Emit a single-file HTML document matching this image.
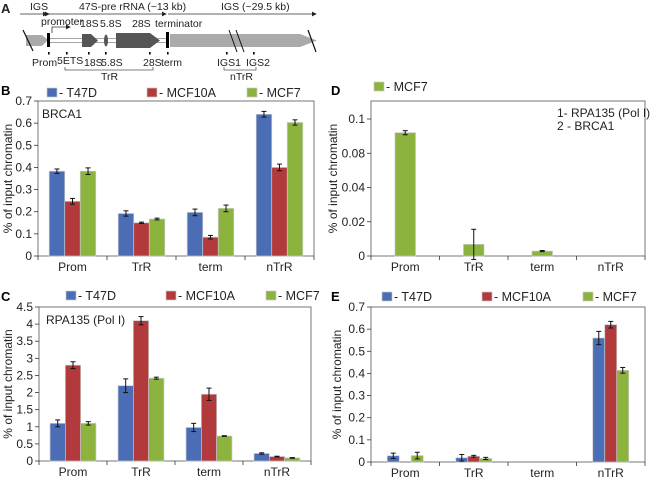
<!DOCTYPE html>
<html><head><meta charset="utf-8">
<style>
body{margin:0;background:#fff;}
svg{display:block;font-family:"Liberation Sans",Arial,sans-serif;}
</style></head>
<body>
<svg id="fig" width="650" height="477" viewBox="0 0 650 477" xmlns="http://www.w3.org/2000/svg">
<defs>
<marker id="ah" markerWidth="6" markerHeight="6" refX="5" refY="3" orient="auto"><path d="M0,0 L6,3 L0,6 z" fill="#222"/></marker>
</defs>
<g id="panelA" font-size="10.5" fill="#222">
  <text x="1" y="13" font-size="13" font-weight="bold">A</text>
  <line x1="20" y1="14" x2="47" y2="14" stroke="#333" stroke-width="0.8" marker-end="url(#ah)"/>
  <line x1="49" y1="14" x2="166" y2="14" stroke="#333" stroke-width="0.8" marker-end="url(#ah)" marker-start="url(#ah)"/>
  <line x1="168" y1="14" x2="316" y2="14" stroke="#333" stroke-width="0.8" marker-end="url(#ah)"/>
  <text x="30" y="10">IGS</text>
  <text x="79" y="10">47S-pre rRNA (~13 kb)</text>
  <text x="221" y="10">IGS (~29.5 kb)</text>
  <polygon points="26,35 42,35 48,40 42,46 26,46" fill="#aaa"/>
  <line x1="23" y1="30" x2="33" y2="51" stroke="#111" stroke-width="1.2"/>
  <line x1="48" y1="38.5" x2="168" y2="38.5" stroke="#888" stroke-width="0.8"/>
  <line x1="48" y1="42.5" x2="168" y2="42.5" stroke="#888" stroke-width="0.8"/>
  <rect x="47" y="33" width="3" height="14" fill="#000"/>
  <polyline points="52,33 52,27 70,27" fill="none" stroke="#333" stroke-width="0.8" marker-end="url(#ah)"/>
  <text x="41" y="25">promoter</text>
  <polygon points="82,34 91,34 98,40.5 91,47 82,47" fill="#555"/>
  <ellipse cx="106" cy="40.5" rx="2" ry="6" fill="#555"/>
  <polygon points="116,33 150,33 160,40.5 150,48 116,48" fill="#555"/>
  <text x="80" y="27">18S</text>
  <text x="100" y="27">5.8S</text>
  <text x="132" y="27">28S</text>
  <text x="155" y="27">terminator</text>
  <rect x="166" y="32" width="3" height="16" fill="#000"/>
  <polygon points="170,34 300,34 317,40.5 300,47 170,47" fill="#aaa"/>
  <line x1="229" y1="30" x2="237" y2="52" stroke="#111" stroke-width="1"/>
  <line x1="236" y1="30" x2="244" y2="52" stroke="#111" stroke-width="1"/>
  <line x1="308" y1="30" x2="316" y2="52" stroke="#111" stroke-width="1.2"/>
  <g fill="#000">
    <rect x="48" y="52" width="1.6" height="2.5"/><rect x="66" y="52" width="1.6" height="2.5"/>
    <rect x="88" y="52" width="1.6" height="2.5"/><rect x="105" y="52" width="1.6" height="2.5"/>
    <rect x="149" y="52" width="1.6" height="2.5"/><rect x="167" y="52" width="1.6" height="2.5"/>
    <rect x="226" y="52" width="1.6" height="2.5"/><rect x="253" y="52" width="1.6" height="2.5"/>
  </g>
  <text x="32" y="66">Prom</text>
  <text x="57" y="64">5ETS</text>
  <text x="84" y="66">18S</text>
  <text x="101" y="66">5.8S</text>
  <text x="143" y="66">28S</text>
  <text x="161" y="66">term</text>
  <text x="217" y="66">IGS1</text>
  <text x="246" y="66">IGS2</text>
  <polyline points="65,67 65,70 153,70 153,67" fill="none" stroke="#555" stroke-width="0.8"/>
  <text x="101" y="80">TrR</text>
  <polyline points="224,67 224,70 256,70 256,67" fill="none" stroke="#555" stroke-width="0.8"/>
  <text x="230" y="80">nTrR</text>
</g>
</svg>
<script>
var categories = ["Prom","TrR","term","nTrR"];
var seriesNames = ["T47D","MCF10A","MCF7"];
var colors = ["#4a6db5","#b23a3c","#8db33f"];
var bT47D = [0.383,0.192,0.197,0.64];
var bMCF10A = [0.247,0.150,0.085,0.40];
var bMCF7 = [0.383,0.167,0.215,0.603];
var bErrT47D = [0.01,0.012,0.015,0.013];
var bErrMCF10A = [0.013,0.003,0.008,0.015];
var bErrMCF7 = [0.015,0.004,0.015,0.012];
var bTicks = ["0","0.1","0.2","0.3","0.4","0.5","0.6","0.7"];
var cT47D = [1.1,2.2,0.98,0.22];
var cMCF10A = [2.8,4.1,1.95,0.13];
var cMCF7 = [1.1,2.42,0.73,0.09];
var cErrT47D = [0.1,0.2,0.12,0.02];
var cErrMCF10A = [0.1,0.12,0.18,0.01];
var cErrMCF7 = [0.05,0.03,0.01,0.01];
var cTicks = ["0","0.5","1","1.5","2","2.5","3","3.5","4","4.5"];
var dMCF7 = [0.09,0.0085,0.0036,0];
var dErrMCF7 = [0.0015,0.011,0.0004,0];
var dTicks = ["0","0.02","0.04","0.08","0.1"];
var eT47D = [0.028,0.019,0,0.56];
var eMCF10A = [0,0.026,0,0.62];
var eMCF7 = [0.029,0.016,0,0.414];
var eErrT47D = [0.012,0.015,0,0.03];
var eErrMCF10A = [0,0.004,0,0.015];
var eErrMCF7 = [0.015,0.005,0,0.013];
var eTicks = ["0","0.1","0.2","0.3","0.4","0.5","0.6","0.7"];

var NS="http://www.w3.org/2000/svg";
var svg=document.getElementById('fig');
function mk(tag,attrs,parent){var e=document.createElementNS(NS,tag);for(var k in attrs)e.setAttribute(k,attrs[k]);(parent||svg).appendChild(e);return e;}

function chart(o){
  var g=mk('g',{});
  
  
  var x0=o.x0,x1=o.x1,y0=o.y0,yTop=o.yTop,yMaxPix=o.yMaxPix,vmax=o.vmax;
  function ys(v){return y0-(v/vmax)*(y0-yMaxPix);}
  var cw=(x1-x0)/categories.length;
  function xs(i){return x0+cw*i;}
  var frame=mk('rect',{x:x0,y:yTop,width:x1-x0,height:y0-yTop,fill:'none',stroke:'#555','stroke-width':0.8},g);
  
  
  var n=o.ticks.length;
  for(var t=0;t<n;t++){
    var tv=vmax*t/(n-1);var yy=ys(tv);
    mk('line',{x1:x0-4,x2:x0,y1:yy,y2:yy,stroke:'#333','stroke-width':0.8},g);
    var tl=mk('text',{x:x0-6,y:yy+4,'font-size':12,'text-anchor':'end',fill:'#222'},g);
    tl.textContent=o.ticks[t];
    
    
  }
  for(var i=0;i<=categories.length;i++){
    mk('line',{x1:xs(i),x2:xs(i),y1:y0,y2:y0+4,stroke:'#333','stroke-width':0.8},g);
  }
  for(var i=0;i<categories.length;i++){
    var cl=mk('text',{x:xs(i)+cw/2,y:y0+15,'font-size':12,'text-anchor':'middle',fill:'#222'},g);
    cl.textContent=categories[i];
    
    
  }
  var yt=mk('text',{x:0,y:0,'font-size':12,'text-anchor':'middle',fill:'#222',transform:'translate('+o.ytx+','+((y0+yTop)/2)+') rotate(-90)'},g);
  yt.textContent='% of input chromatin';
  
  
  var ns=o.series.length, bw=cw*o.bwFrac;
  for(var s=0;s<ns;s++){
    var vals=o.series[s], errs=o.errs[s];
    for(var i=0;i<categories.length;i++){
      var v=vals[i]; if(v<=0) continue;
      var bx=xs(i)+cw/2-bw*ns/2+bw*s;
      var r=mk('rect',{x:bx,y:ys(v),width:bw,height:y0-ys(v),fill:o.colors[s],stroke:'#c9c9c9','stroke-width':0.7},g);
      
      
      var e=errs[i];
      if(e>0){
        var cx=bx+bw/2;
        var lo=Math.max(v-e,-vmax*0.03);
        mk('line',{x1:cx,x2:cx,y1:ys(v+e),y2:ys(lo),stroke:'#111','stroke-width':1},g);
        mk('line',{x1:cx-2.5,x2:cx+2.5,y1:ys(v+e),y2:ys(v+e),stroke:'#111','stroke-width':1},g);
        mk('line',{x1:cx-2.5,x2:cx+2.5,y1:ys(lo),y2:ys(lo),stroke:'#111','stroke-width':1},g);
      }
    }
  }
  for(var s=0;s<ns;s++){
    var lx=o.legX[s];
    var sq=mk('rect',{x:lx,y:o.legY-5,width:10,height:9,fill:o.colors[s],stroke:'#c9c9c9','stroke-width':0.7},g);
    
    
    var lt=mk('text',{x:lx+12,y:o.legY+4,'font-size':12.5,fill:'#222'},g);
    lt.textContent='- '+o.labels[s];
    
    
  }
  var pl=mk('text',{x:o.plx,y:o.ply,'font-size':13,'font-weight':'bold',fill:'#000'},g);
  pl.textContent=o.letter;
  
  
  for(var a=0;a<o.notes.length;a++){
    var nt=mk('text',{x:o.notes[a][0],y:o.notes[a][1],'font-size':12,fill:'#222'},g);
    nt.textContent=o.notes[a][2];
    
    
  }
}
chart({name:'chart-b-brca1',letter:'B',plx:1,ply:95,x0:38,x1:314,y0:256,yTop:101,yMaxPix:101,vmax:0.7,ticks:bTicks,ytx:12,
  series:[bT47D,bMCF10A,bMCF7],errs:[bErrT47D,bErrMCF10A,bErrMCF7],colors:colors,labels:seriesNames,bwFrac:0.225,
  legX:[47,147,247],legY:93,notes:[[42,118,'BRCA1']]});
chart({name:'chart-c-rpa135',letter:'C',plx:1,ply:301,x0:39,x1:311,y0:461,yTop:307,yMaxPix:307,vmax:4.5,ticks:cTicks,ytx:12,
  series:[cT47D,cMCF10A,cMCF7],errs:[cErrT47D,cErrMCF10A,cErrMCF7],colors:colors,labels:seriesNames,bwFrac:0.225,
  legX:[66,166,266],legY:296,notes:[[46,324,'RPA135 (Pol I)']]});
chart({name:'chart-d-rechip',letter:'D',plx:331,ply:95,x0:371,x1:645,y0:256,yTop:101,yMaxPix:119,vmax:0.1,ticks:dTicks,ytx:337,
  series:[dMCF7],errs:[dErrMCF7],colors:[colors[2]],labels:['MCF7'],bwFrac:0.3,
  legX:[374],legY:87,notes:[[557,117,'1- RPA135 (Pol I)'],[557,130,'2 - BRCA1']]});
chart({name:'chart-e',letter:'E',plx:331,ply:301,x0:371,x1:645,y0:462,yTop:307,yMaxPix:307,vmax:0.7,ticks:eTicks,ytx:341,
  series:[eT47D,eMCF10A,eMCF7],errs:[eErrT47D,eErrMCF10A,eErrMCF7],colors:colors,labels:seriesNames,bwFrac:0.175,
  legX:[382,482,583],legY:297,notes:[]});
</script>
</body></html>
